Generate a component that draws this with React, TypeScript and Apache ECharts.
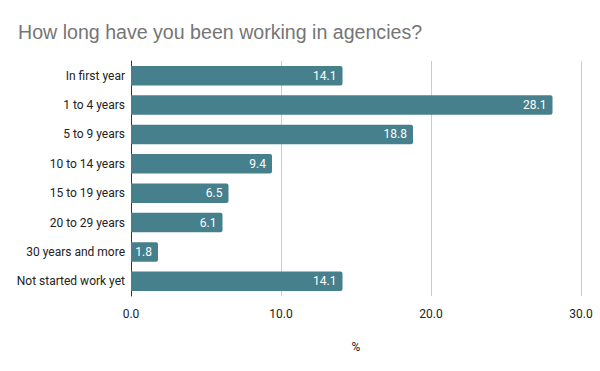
import React, { useEffect, useRef } from "react";
import * as echarts from "echarts";

const categories = [
  "In first year",
  "1 to 4 years",
  "5 to 9 years",
  "10 to 14 years",
  "15 to 19 years",
  "20 to 29 years",
  "30 years and more",
  "Not started work yet",
];
const values = [14.1, 28.1, 18.8, 9.4, 6.5, 6.1, 1.8, 14.1];
const xTicks = { min: 0, max: 30, interval: 10 };

export default function App() {
  const ref = useRef<HTMLDivElement>(null);
  useEffect(() => {
    const chart = echarts.init(ref.current!, null, { renderer: "svg" });
    chart.setOption({
      animation: false,
      title: {
        text: "How long have you been working in agencies?",
        left: 13,
        top: 17,
        textStyle: { fontFamily: "Liberation Sans, Arial, sans-serif", fontSize: 19.6, fontWeight: "normal", color: "#757575" },
      },
      grid: { left: 131, right: 19, top: 61, bottom: 75 },
      xAxis: {
        type: "value",
        min: xTicks.min,
        max: xTicks.max,
        interval: xTicks.interval,
        name: "%",
        nameLocation: "middle",
        nameGap: 45,
        nameTextStyle: { fontFamily: "Roboto", fontSize: 12, color: "#222" },
        axisLabel: {
          formatter: (v: number) => v.toFixed(1),
          fontFamily: "Roboto",
          fontSize: 12,
          color: "#222",
          margin: 12,
        },
        axisLine: { show: false },
        axisTick: { show: false },
        splitLine: { lineStyle: { color: "#cccccc" } },
      },
      yAxis: {
        type: "category",
        data: categories,
        inverse: true,
        axisLine: { show: true, lineStyle: { color: "#333" } },
        axisTick: { show: false },
        axisLabel: { fontFamily: "Roboto", fontSize: 12, color: "#222", margin: 6 },
      },
      series: [
        {
          type: "bar",
          data: values,
          barCategoryGap: "34%",
          itemStyle: { color: "#46808c", borderRadius: [0, 2, 2, 0] },
          label: {
            show: true,
            position: "insideRight",
            formatter: (p: any) => p.value.toFixed(1),
            color: "#fff",
            fontFamily: "Roboto",
            fontSize: 12,
            distance: 6,
          },
        },
      ],
    });
    return () => chart.dispose();
  }, []);
  return <div ref={ref} style={{ width: 600, height: 371, position: "absolute", left: 0, top: 0 }} />;
}
